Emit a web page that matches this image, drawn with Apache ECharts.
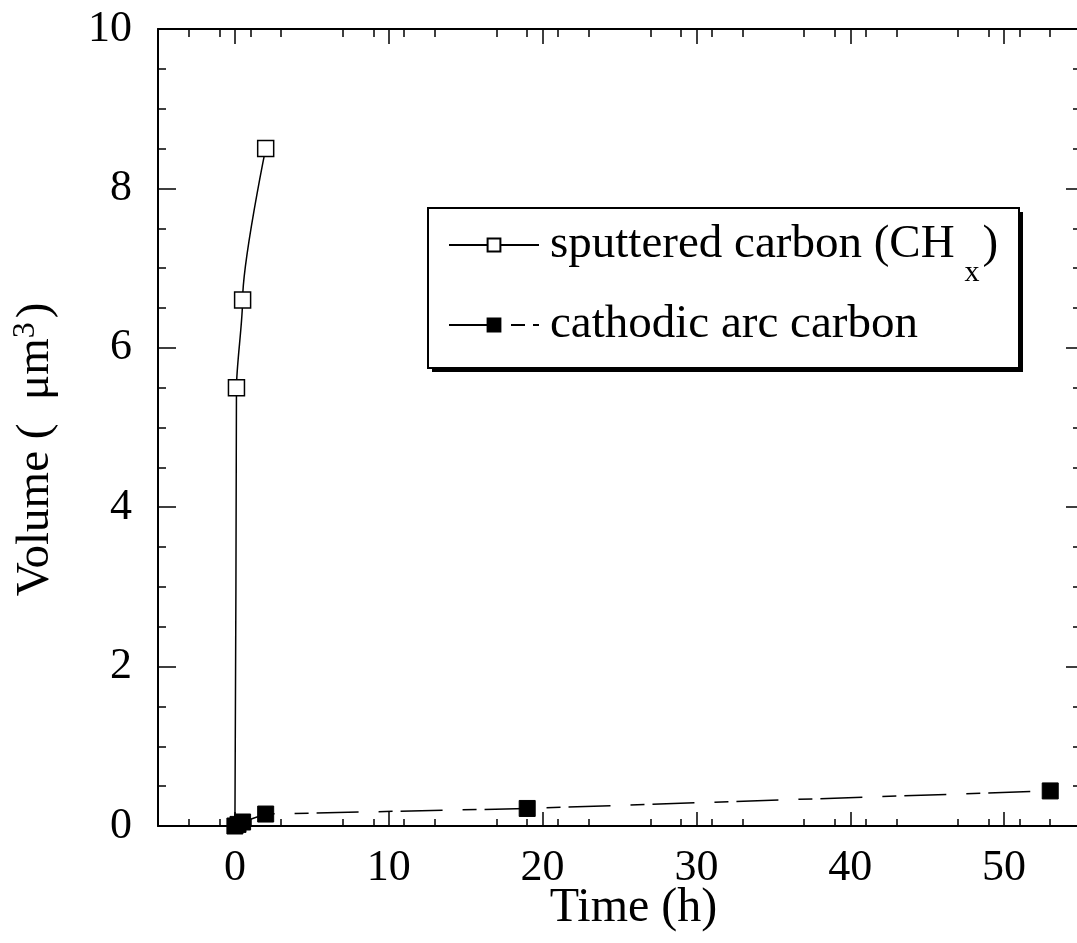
<!DOCTYPE html>
<html>
<head>
<meta charset="utf-8">
<script src="https://cdn.jsdelivr.net/npm/echarts@6/dist/echarts.min.js"></script>
<style>
html,body{margin:0;padding:0;background:#fff;}
#chart{width:1077px;height:943px;}
</style>
</head>
<body>
<div id="chart"></div>
<script>
// Data
var sputteredTime = [0, 0.1, 0.5, 2];
var sputteredVolume = [0, 5.5, 6.6, 8.5];
var arcTime = [0, 0.2, 0.5, 2, 19, 53];
var arcVolume = [0, 0.02, 0.05, 0.15, 0.22, 0.44];
var seriesNames = ['sputtered carbon (CHx)', 'cathodic arc carbon'];
var xTicks = [0, 10, 20, 30, 40, 50];
var yTicks = [0, 2, 4, 6, 8, 10];

function pairs(xs, ys) {
  return xs.map(function (x, i) { return [x, ys[i]]; });
}

var FONT = 'Liberation Serif';
var chart = echarts.init(document.getElementById('chart'), null, {renderer: 'canvas'});

var sputData = pairs(sputteredTime, sputteredVolume).map(function (p, i) {
  return i === 0 ? {value: p, symbol: 'none'} : {value: p};
});

var option = {
  backgroundColor: '#ffffff',
  animation: false,
  grid: {left: 158, right: -4, top: 29, bottom: 117, containLabel: false, outerBoundsMode: 'none'},
  graphic: [
    {type: 'rect', left: 432, top: 212, shape: {width: 591, height: 160}, style: {fill: '#000'}, z: 90},
    {type: 'rect', left: 427, top: 207, shape: {width: 591, height: 160}, style: {fill: '#fff', stroke: '#000', lineWidth: 2}, z: 91}
  ],
  legend: {
    orient: 'vertical',
    left: 427,
    top: 202,
    padding: [0, 22, 0, 21],
    itemGap: 12,
    itemWidth: 90,
    itemHeight: 16,
    z: 100,
    textStyle: {
      fontFamily: FONT, fontSize: 47, color: '#000', lineHeight: 50, padding: [0, 0, 0, 6],
      rich: {
        sub: {fontFamily: FONT, fontSize: 30, color: '#000', lineHeight: 30, padding: [56, 3, 0, 10]},
        n: {fontFamily: FONT, fontSize: 47, color: '#000', lineHeight: 50}
      }
    },
    formatter: function (name) {
      if (name === seriesNames[0]) return '{n|sputtered carbon (CH}{sub|x}{n|)}';
      return name;
    },
    data: seriesNames
  },
  xAxis: [{
    type: 'value', min: -5, max: 55, interval: 10,
    name: 'Time (h)', nameLocation: 'middle', nameGap: 58, nameMoveOverlap: false,
    nameTextStyle: {fontFamily: FONT, fontSize: 48, color: '#000', padding: [0, 0, 0, 28]},
    axisLine: {show: true, onZero: false, lineStyle: {color: '#000', width: 2}},
    axisTick: {show: true, inside: true, length: 14, lineStyle: {color: '#000', width: 1.5},
      customValues: xTicks},
    minorTick: {show: true, splitNumber: 5, length: 7, lineStyle: {color: '#000', width: 1.5}},
    axisLabel: {fontFamily: FONT, fontSize: 44, color: '#000', margin: 20, customValues: xTicks},
    splitLine: {show: false}
  }, {
    type: 'value', min: -5, max: 55, interval: 10, position: 'top',
    axisLine: {show: true, onZero: false, lineStyle: {color: '#000', width: 2}},
    axisTick: {show: true, inside: true, length: 15, lineStyle: {color: '#000', width: 1.5}, customValues: xTicks},
    minorTick: {show: true, splitNumber: 5, length: 8, lineStyle: {color: '#000', width: 1.5}},
    axisLabel: {show: false},
    splitLine: {show: false}
  }],
  yAxis: [{
    type: 'value', min: 0, max: 10, interval: 2,
    name: 'Volume (  \u03bcm{sup|3})', nameLocation: 'middle', nameGap: 96, nameMoveOverlap: false,
    nameTextStyle: {fontFamily: FONT, fontSize: 47, color: '#000', padding: [0, 44, 0, 0],
      rich: {sup: {fontFamily: FONT, fontSize: 32, color: '#000', verticalAlign: 'top', padding: [0, 4, 20, 0]}}},
    axisLine: {show: true, onZero: false, lineStyle: {color: '#000', width: 2}},
    axisTick: {show: true, inside: true, length: 18, lineStyle: {color: '#000', width: 1.5}},
    minorTick: {show: true, splitNumber: 4, length: 8, lineStyle: {color: '#000', width: 1.5}},
    axisLabel: {fontFamily: FONT, fontSize: 44, color: '#000', margin: 26},
    splitLine: {show: false}
  }, {
    type: 'value', min: 0, max: 10, interval: 2, position: 'right',
    axisLine: {show: false, onZero: false},
    axisTick: {show: true, inside: true, length: 15, lineStyle: {color: '#000', width: 1.5}},
    minorTick: {show: true, splitNumber: 4, length: 8, lineStyle: {color: '#000', width: 1.5}},
    axisLabel: {show: false},
    splitLine: {show: false}
  }],
  series: [{
    name: seriesNames[0],
    type: 'line',
    data: sputData,
    smooth: 0.25,
    smoothMonotone: 'y',
    symbol: 'rect',
    symbolSize: 16,
    showAllSymbol: true,
    lineStyle: {color: '#000', width: 1.5},
    itemStyle: {color: '#fff', borderColor: '#000', borderWidth: 1.5},
    z: 2
  }, {
    name: seriesNames[1],
    type: 'line',
    data: pairs(arcTime, arcVolume),
    symbol: 'rect',
    symbolSize: 16,
    showAllSymbol: true,
    lineStyle: {color: '#000', width: 1.5, type: [42, 20, 14, 8]},
    itemStyle: {color: '#000', borderColor: '#000', borderWidth: 1},
    z: 3
  }]
};
chart.setOption(option);
</script>
</body>
</html>
